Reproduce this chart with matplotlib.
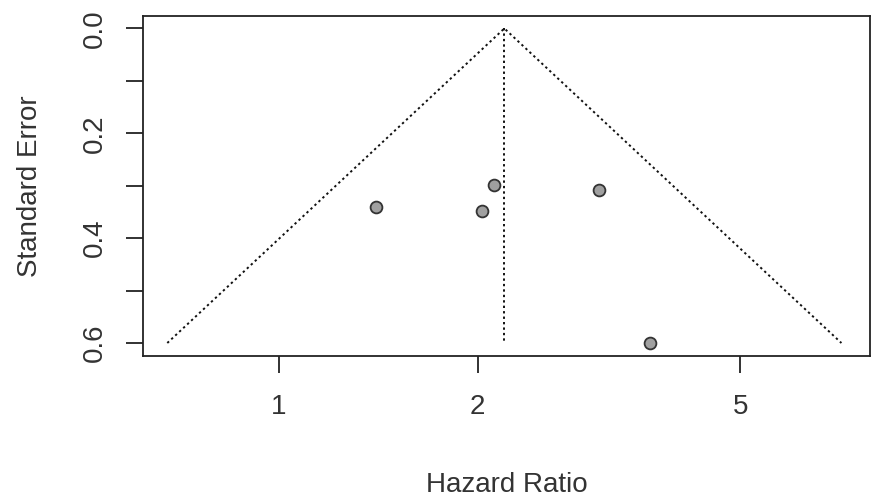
import matplotlib
matplotlib.use("Agg")
import matplotlib.pyplot as plt
import numpy as np

# study estimates (hazard ratio) and their standard errors
hazard_ratio = [1.403, 2.031, 2.117, 3.054, 3.649]
std_error = [0.341, 0.348, 0.299, 0.308, 0.600]

# pooled estimate and funnel depth
pooled_hr = 2.195
se_max = 0.6

x_ticks = [1, 2, 5]
x_tick_labels = ["1", "2", "5"]
y_ticks = [0.0, 0.1, 0.2, 0.3, 0.4, 0.5, 0.6]
y_tick_labels = ["0.0", "", "0.2", "", "0.4", "", "0.6"]

plt.rcParams["font.family"] = ["Liberation Sans", "DejaVu Sans"]

fig = plt.figure(figsize=(8.71, 4.99), dpi=100)
ax = fig.add_axes([0.1642, 0.2856, 0.8347, 0.6824])

# funnel: pooled +/- 1.96 * se on the log scale
se_line = np.array([se_max, 0.0, se_max])
log_c = np.log(pooled_hr)
funnel_x = np.exp(log_c + np.array([-1.96, 0.0, 1.96]) * se_line)
dotted = (0, (1.2, 1.6))
ax.plot(funnel_x, se_line, color="#111111", lw=1.4, linestyle=dotted)
ax.plot([pooled_hr, pooled_hr], [0.0, se_max], color="#111111", lw=1.4,
        linestyle=dotted)

ax.plot(hazard_ratio, std_error, "o", ms=8.5, mfc="#a0a0a0", mec="#333333",
        mew=1.3, linestyle="none")

ax.set_xscale("log")
ax.set_xlim(0.6222, 7.862)
ax.set_ylim(0.6257, -0.0238)
ax.set_xticks(x_ticks)
ax.set_xticklabels(x_tick_labels)
ax.xaxis.set_minor_locator(matplotlib.ticker.NullLocator())
ax.set_yticks(y_ticks)
ax.set_yticklabels(y_tick_labels, rotation=90, va="center")

for s in ax.spines.values():
    s.set_linewidth(1.3)
    s.set_color("#222222")

ax.tick_params(axis="both", length=12, width=1.3, color="#222222",
               labelsize=20, labelcolor="#333333")
ax.tick_params(axis="x", pad=15)
ax.tick_params(axis="y", pad=13)

ax.set_xlabel("Hazard Ratio", fontsize=20, color="#333333", va="center")
ax.xaxis.set_label_coords(0.5, -0.377)
ax.set_ylabel("Standard Error", fontsize=20, color="#333333", va="center")
ax.yaxis.set_label_coords(-0.155, 0.5)

fig.savefig("out.png", dpi=100)
